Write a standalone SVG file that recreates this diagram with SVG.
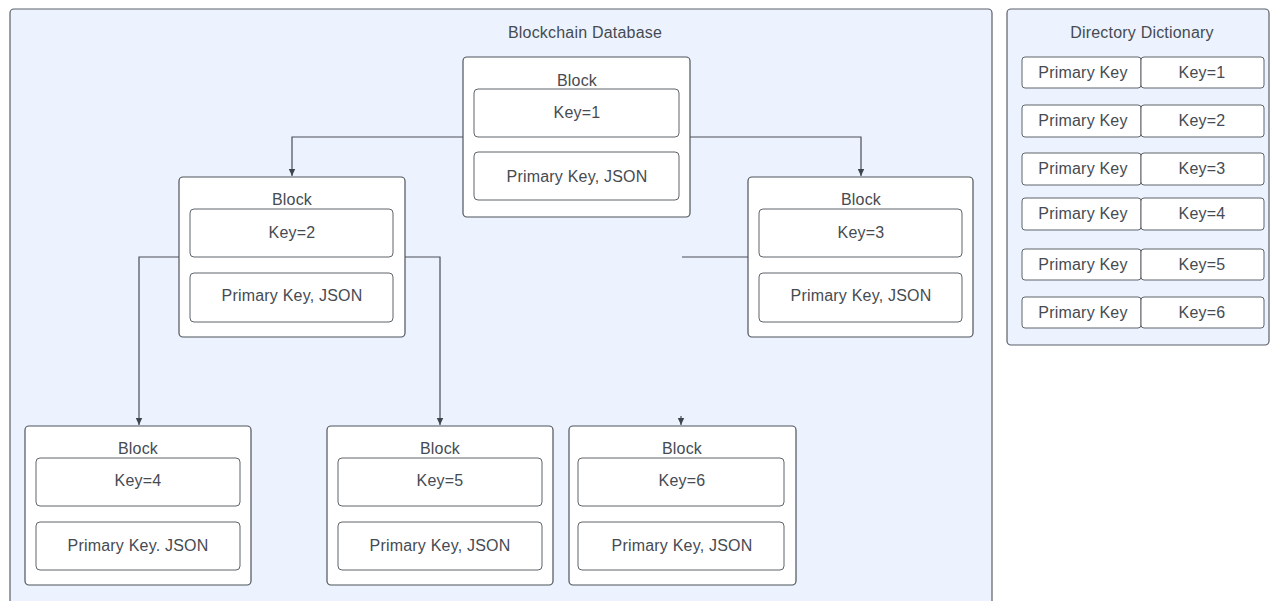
<svg xmlns="http://www.w3.org/2000/svg" width="1270" height="601" viewBox="0 0 1270 601">
  <style>
    .frame { fill: #ecf3fe; stroke: #5b6068; stroke-width: 1.2; }
    .block { fill: #ffffff; stroke: #4f545b; stroke-width: 1.2; }
    .cell { fill: #ffffff; stroke: #5f646b; stroke-width: 1; }
    .lbl { font-family: "Liberation Sans", Arial, sans-serif; font-size: 16px; fill: #464b52; text-anchor: middle; dominant-baseline: central; letter-spacing: 0.2px; }
    .title { font-size: 16px; }
    .wire { fill: none; stroke: #4a4f56; stroke-width: 1.2; }
  </style>
  <defs>
    <marker id="arrow" markerWidth="8" markerHeight="8" refX="7" refY="4" orient="auto" markerUnits="userSpaceOnUse">
      <path d="M0,0.8 L7,4 L0,7.2 Z" fill="#3f444b"/>
    </marker>
  </defs>

  <!-- containers -->
  <g id="blockchain-database">
    <rect class="frame" x="10" y="9" width="982" height="600" rx="4"/>
    <text class="lbl title" x="585" y="32">Blockchain Database</text>
  </g>
  <g id="directory-dictionary">
    <rect class="frame" x="1007" y="9" width="262" height="336" rx="4"/>
    <text class="lbl title" x="1142" y="32">Directory Dictionary</text>
  </g>

  <!-- connectors -->
  <g id="connectors">
    <path class="wire" d="M463,137 H292 V176" marker-end="url(#arrow)"/>
    <path class="wire" d="M690,137 H861 V176" marker-end="url(#arrow)"/>
    <path class="wire" d="M179,257 H139 V425" marker-end="url(#arrow)"/>
    <path class="wire" d="M405,257 H440 V425" marker-end="url(#arrow)"/>
    <path class="wire" d="M748,257 H682"/>
    <path class="wire" d="M681,416 V425" marker-end="url(#arrow)"/>
  </g>

  <!-- blocks -->
  <g id="block-1">
    <rect class="block" x="463" y="57" width="227" height="160" rx="4"/>
    <text class="lbl" x="577" y="80">Block</text>
    <rect class="cell" x="474" y="89" width="205" height="48" rx="4"/>
    <text class="lbl" x="577" y="112">Key=1</text>
    <rect class="cell" x="474" y="152" width="205" height="48" rx="4"/>
    <text class="lbl" x="577" y="176">Primary Key, JSON</text>
  </g>
  <g id="block-2">
    <rect class="block" x="179" y="177" width="226" height="160" rx="4"/>
    <text class="lbl" x="292" y="199">Block</text>
    <rect class="cell" x="190" y="209" width="203" height="48" rx="4"/>
    <text class="lbl" x="292" y="232">Key=2</text>
    <rect class="cell" x="190" y="273" width="203" height="49" rx="4"/>
    <text class="lbl" x="292" y="295">Primary Key, JSON</text>
  </g>
  <g id="block-3">
    <rect class="block" x="748" y="177" width="225" height="160" rx="4"/>
    <text class="lbl" x="861" y="199">Block</text>
    <rect class="cell" x="759" y="209" width="203" height="48" rx="4"/>
    <text class="lbl" x="861" y="232">Key=3</text>
    <rect class="cell" x="759" y="273" width="203" height="49" rx="4"/>
    <text class="lbl" x="861" y="295">Primary Key, JSON</text>
  </g>
  <g id="block-4">
    <rect class="block" x="25" y="426" width="226" height="159" rx="4"/>
    <text class="lbl" x="138" y="448">Block</text>
    <rect class="cell" x="36" y="458" width="204" height="48" rx="4"/>
    <text class="lbl" x="138" y="480">Key=4</text>
    <rect class="cell" x="36" y="522" width="204" height="48" rx="4"/>
    <text class="lbl" x="138" y="545">Primary Key. JSON</text>
  </g>
  <g id="block-5">
    <rect class="block" x="327" y="426" width="226" height="159" rx="4"/>
    <text class="lbl" x="440" y="448">Block</text>
    <rect class="cell" x="338" y="458" width="204" height="48" rx="4"/>
    <text class="lbl" x="440" y="480">Key=5</text>
    <rect class="cell" x="338" y="522" width="204" height="48" rx="4"/>
    <text class="lbl" x="440" y="545">Primary Key, JSON</text>
  </g>
  <g id="block-6">
    <rect class="block" x="569" y="426" width="227" height="159" rx="4"/>
    <text class="lbl" x="682" y="448">Block</text>
    <rect class="cell" x="578" y="458" width="206" height="48" rx="4"/>
    <text class="lbl" x="682" y="480">Key=6</text>
    <rect class="cell" x="578" y="522" width="206" height="48" rx="4"/>
    <text class="lbl" x="682" y="545">Primary Key, JSON</text>
  </g>

  <!-- dictionary rows -->
  <g id="entry-1">
    <rect class="cell" x="1022" y="57" width="119" height="31" rx="3"/>
    <rect class="cell" x="1141" y="57" width="123" height="31" rx="3"/>
    <text class="lbl" x="1083" y="72">Primary Key</text>
    <text class="lbl" x="1202" y="72">Key=1</text>
  </g>
  <g id="entry-2">
    <rect class="cell" x="1022" y="105" width="119" height="32" rx="3"/>
    <rect class="cell" x="1141" y="105" width="123" height="32" rx="3"/>
    <text class="lbl" x="1083" y="120">Primary Key</text>
    <text class="lbl" x="1202" y="120">Key=2</text>
  </g>
  <g id="entry-3">
    <rect class="cell" x="1022" y="153" width="119" height="32" rx="3"/>
    <rect class="cell" x="1141" y="153" width="123" height="32" rx="3"/>
    <text class="lbl" x="1083" y="168">Primary Key</text>
    <text class="lbl" x="1202" y="168">Key=3</text>
  </g>
  <g id="entry-4">
    <rect class="cell" x="1022" y="198" width="119" height="32" rx="3"/>
    <rect class="cell" x="1141" y="198" width="123" height="32" rx="3"/>
    <text class="lbl" x="1083" y="213">Primary Key</text>
    <text class="lbl" x="1202" y="213">Key=4</text>
  </g>
  <g id="entry-5">
    <rect class="cell" x="1022" y="249" width="119" height="31" rx="3"/>
    <rect class="cell" x="1141" y="249" width="123" height="31" rx="3"/>
    <text class="lbl" x="1083" y="264">Primary Key</text>
    <text class="lbl" x="1202" y="264">Key=5</text>
  </g>
  <g id="entry-6">
    <rect class="cell" x="1022" y="297" width="119" height="31" rx="3"/>
    <rect class="cell" x="1141" y="297" width="123" height="31" rx="3"/>
    <text class="lbl" x="1083" y="312">Primary Key</text>
    <text class="lbl" x="1202" y="312">Key=6</text>
  </g>
</svg>
